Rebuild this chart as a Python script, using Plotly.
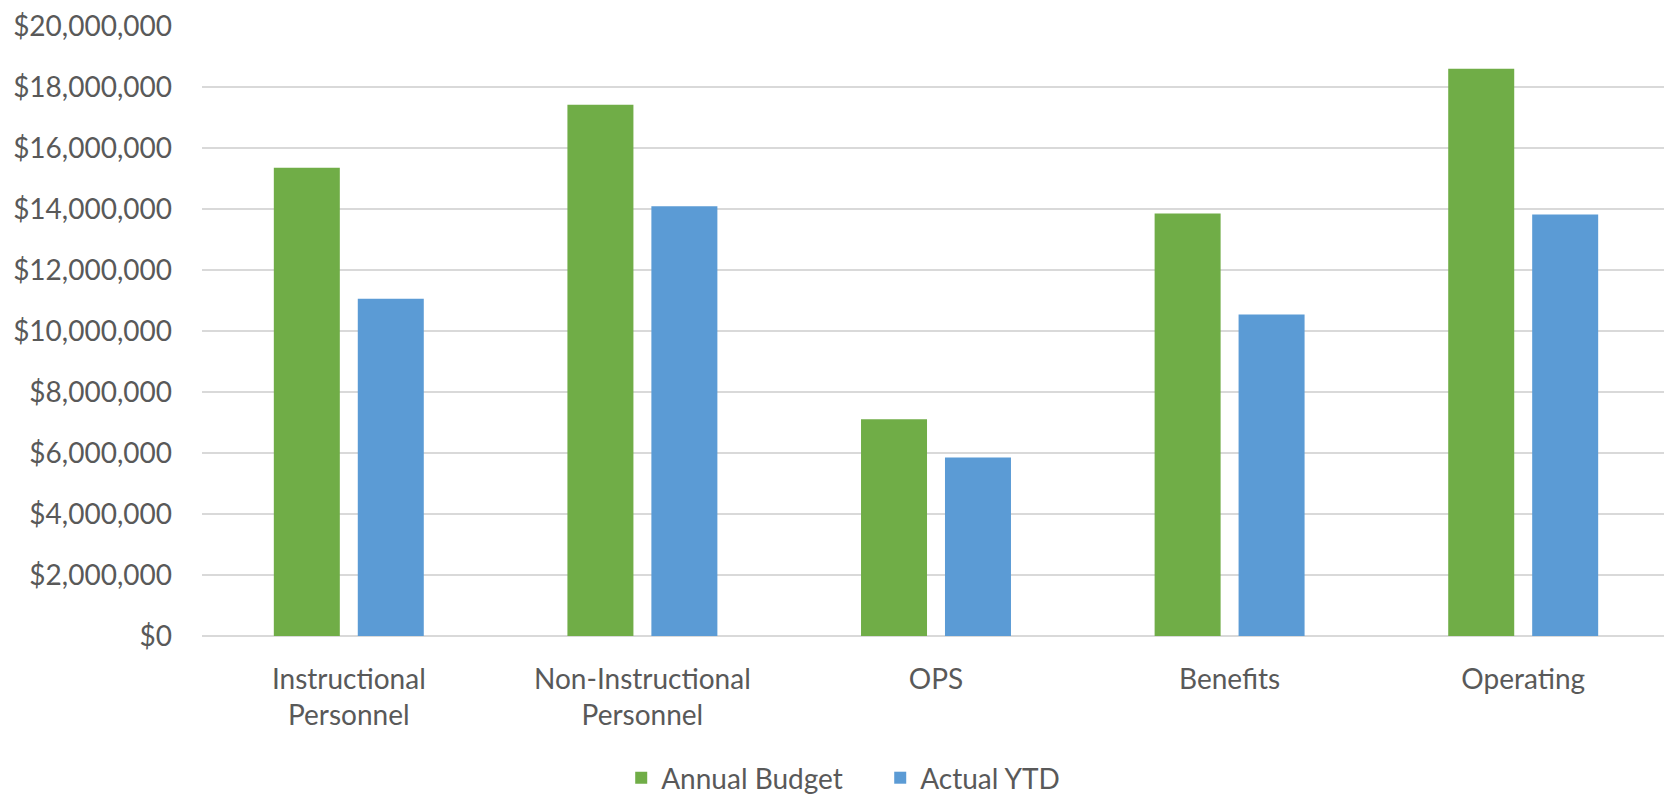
import plotly.graph_objects as go

categories = ["Instructional<br>Personnel", "Non-Instructional<br>Personnel", "OPS", "Benefits", "Operating"]
annual_budget = [15350000, 17420000, 7110000, 13850000, 18600000]
actual_ytd = [11060000, 14090000, 5850000, 10540000, 13820000]
tick_vals = [0, 2000000, 4000000, 6000000, 8000000, 10000000, 12000000, 14000000, 16000000, 18000000, 20000000]
tick_text = ["$0", "$2,000,000", "$4,000,000", "$6,000,000", "$8,000,000", "$10,000,000",
             "$12,000,000", "$14,000,000", "$16,000,000", "$18,000,000", "$20,000,000"]

FONT = "Lato, 'Noto Sans', sans-serif"
GRAY = "#595959"

fig = go.Figure()
fig.add_trace(go.Bar(name="Annual Budget", x=categories, y=annual_budget,
                     marker=dict(color="#70AD47", line=dict(width=0))))
fig.add_trace(go.Bar(name="Actual YTD", x=categories, y=actual_ytd,
                     marker=dict(color="#5B9BD5", line=dict(width=0))))

fig.update_layout(
    width=1664, height=786,
    margin=dict(l=194, r=2, t=18, b=158, autoexpand=False),
    paper_bgcolor="white", plot_bgcolor="white",
    barmode="group", bargap=0.428, bargroupgap=0.214,
    font=dict(family=FONT, size=28, color=GRAY),
    showlegend=True,
    legend=dict(orientation="h", x=0.462, xanchor="center", y=-0.2328, yanchor="middle",
                font=dict(family=FONT, size=28, color=GRAY), itemwidth=30,
                entrywidth=214, entrywidthmode="pixels",
                traceorder="normal"),
    hovermode=False,
)
fig.update_yaxes(range=[0, 20000000.1], tickvals=tick_vals, ticktext=tick_text,
                 showgrid=True, gridcolor="#D9D9D9", gridwidth=1.5,
                 zeroline=True, zerolinecolor="#D9D9D9", zerolinewidth=1.5,
                 showline=False, ticks="", ticklabelstandoff=29, automargin=False,
                 ticklabeloverflow="allow",
                 tickfont=dict(family=FONT, size=28, color=GRAY))
fig.update_xaxes(showgrid=False, showline=False, ticks="", ticklabelstandoff=24, automargin=False,
                 tickfont=dict(family=FONT, size=28, color=GRAY))

fig.write_html("out.html")
